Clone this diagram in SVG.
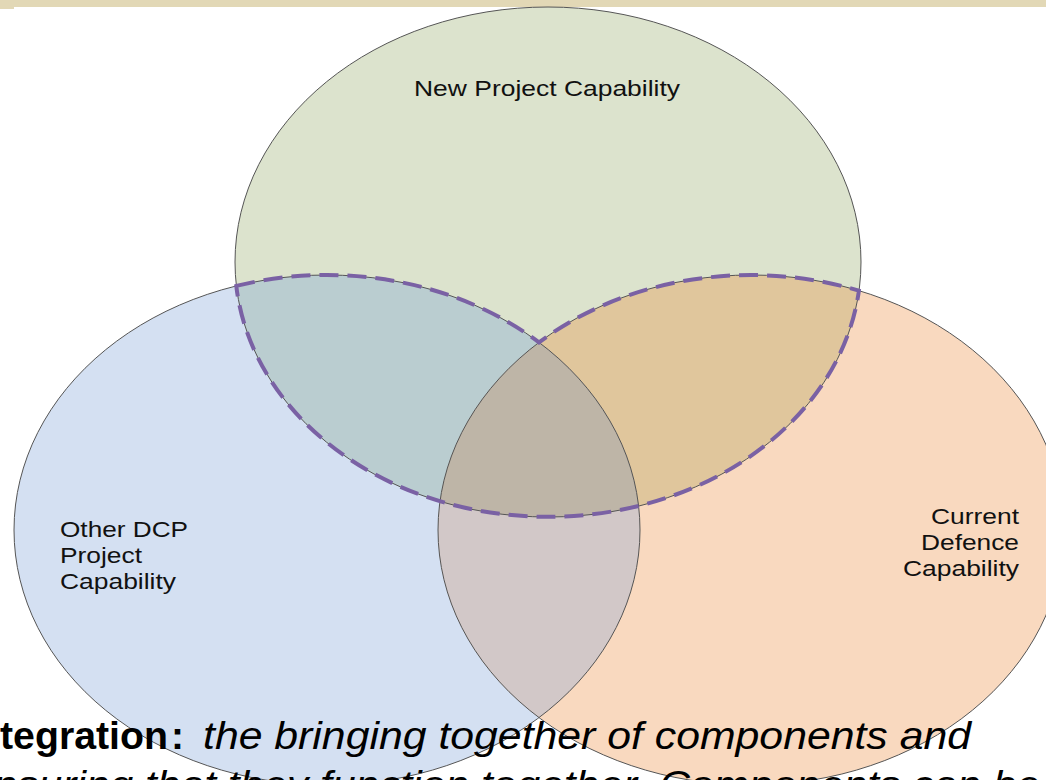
<svg xmlns="http://www.w3.org/2000/svg" width="1046" height="780" viewBox="0 0 1046 780">
<style>
.lbl{font-family:"Liberation Sans",Arial,sans-serif;font-size:21.5px;fill:#111}
.body{font-family:"Liberation Sans",Arial,sans-serif;font-size:39px;fill:#000}
.outline{fill:none;stroke:#555;stroke-width:1}
</style>
<defs>
<clipPath id="cBlue"><ellipse cx="327" cy="530" rx="313" ry="255"/></clipPath>
<clipPath id="cOrange"><ellipse cx="751" cy="530" rx="313" ry="255"/></clipPath>
</defs>
<rect width="1046" height="780" fill="#ffffff"/>
<g id="band">
<rect x="0" y="0" width="1046" height="7" fill="#e2d8b6"/>
<rect x="0" y="0" width="14" height="9" fill="#e2d8b6"/>
</g>
<g id="fills">
<ellipse cx="548" cy="262" rx="313" ry="255" fill="#dce3cd"/>
<ellipse cx="327" cy="530" rx="313" ry="255" fill="#d4e0f2"/>
<ellipse cx="751" cy="530" rx="313" ry="255" fill="#f9d9bf"/>
</g>
<g id="overlaps">
<ellipse cx="548" cy="262" rx="313" ry="255" fill="#bacdd0" clip-path="url(#cBlue)"/>
<ellipse cx="548" cy="262" rx="313" ry="255" fill="#e0c69c" clip-path="url(#cOrange)"/>
<ellipse cx="327" cy="530" rx="313" ry="255" fill="#d2c8c8" clip-path="url(#cOrange)"/>
<g clip-path="url(#cBlue)"><ellipse cx="548" cy="262" rx="313" ry="255" fill="#beb5a7" clip-path="url(#cOrange)"/></g>
</g>
<g id="new-project-capability">
<ellipse class="outline" cx="548" cy="262" rx="313" ry="255"/>
<text class="lbl" x="414" y="96" textLength="266" lengthAdjust="spacingAndGlyphs">New Project Capability</text>
</g>
<g id="other-dcp-project-capability">
<ellipse class="outline" cx="327" cy="530" rx="313" ry="255"/>
<text class="lbl" x="60" y="537" textLength="128" lengthAdjust="spacingAndGlyphs">Other DCP</text>
<text class="lbl" x="60" y="563" textLength="82" lengthAdjust="spacingAndGlyphs">Project</text>
<text class="lbl" x="60" y="589" textLength="116" lengthAdjust="spacingAndGlyphs">Capability</text>
</g>
<g id="current-defence-capability">
<ellipse class="outline" cx="751" cy="530" rx="313" ry="255"/>
<text class="lbl" x="931" y="524" textLength="88" lengthAdjust="spacingAndGlyphs">Current</text>
<text class="lbl" x="921" y="550" textLength="98" lengthAdjust="spacingAndGlyphs">Defence</text>
<text class="lbl" x="903" y="576" textLength="116" lengthAdjust="spacingAndGlyphs">Capability</text>
</g>
<g id="connectors">
<path id="integration-scope" d="M236.3 285.9 A313 255 0 0 1 539 342.4 A313 255 0 0 1 858.9 290.7 A313 255 0 0 1 236.3 285.9 Z" fill="none" stroke="#7a61a4" stroke-width="4" stroke-dasharray="19 9"/>
</g>
<g id="caption">
<text class="body" x="0" y="749" font-weight="bold" textLength="168" lengthAdjust="spacingAndGlyphs">tegration</text>
<text class="body" x="171" y="749" font-weight="bold">:</text>
<text class="body" x="203" y="749" font-style="italic" textLength="768" lengthAdjust="spacingAndGlyphs">the bringing together of components and</text>
<text class="body" x="-30" y="798" font-style="italic" textLength="1070" lengthAdjust="spacingAndGlyphs">ensuring that they function together. Components can be</text>
</g>
</svg>
